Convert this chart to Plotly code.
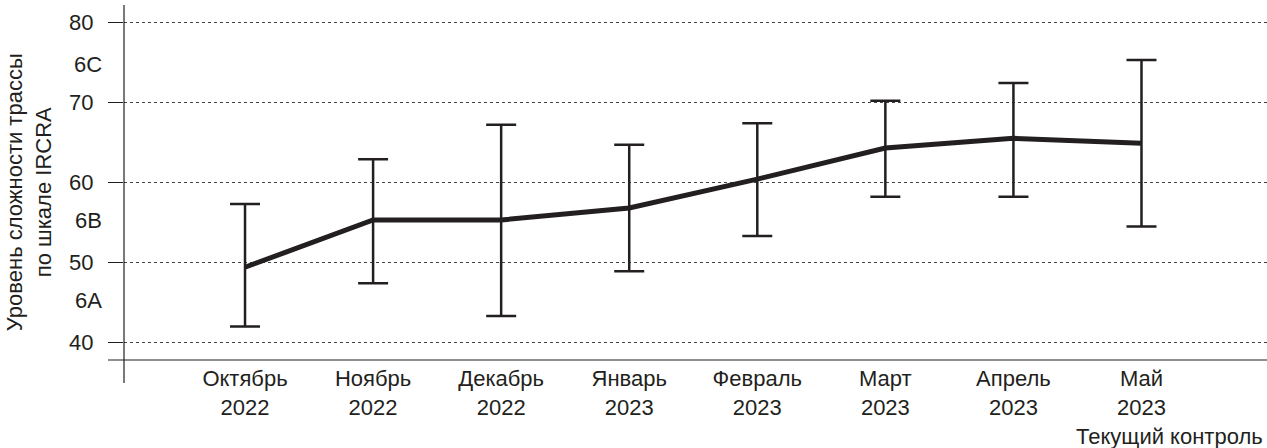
import plotly.graph_objects as go

# Monthly test sessions
months = ["Октябрь<br>2022", "Ноябрь<br>2022", "Декабрь<br>2022", "Январь<br>2023",
          "Февраль<br>2023", "Март<br>2023", "Апрель<br>2023", "Май<br>2023"]
# Mean route difficulty (IRCRA scale) and its spread
mean_level = [49.4, 55.3, 55.3, 56.8, 60.4, 64.3, 65.5, 64.9]
upper_level = [57.3, 62.9, 67.2, 64.7, 67.4, 70.2, 72.4, 75.3]
lower_level = [42.0, 47.4, 43.3, 48.9, 53.3, 58.2, 58.2, 54.5]

# French-scale grades marked alongside the IRCRA values
grade_labels = ["6A", "6B", "6C"]
grade_pos = [45.3, 55.3, 74.7]

y_ticks = [40, 50, 60, 70, 80]

INK = "#231f20"
FONT = "Liberation Sans, Arial, sans-serif"
FS = 22

x_idx = list(range(len(months)))
err_plus = [u - m for u, m in zip(upper_level, mean_level)]
err_minus = [m - l for m, l in zip(mean_level, lower_level)]

fig = go.Figure()
fig.add_trace(go.Scatter(
    x=x_idx, y=mean_level, mode="lines",
    line=dict(color=INK, width=5),
    error_y=dict(type="data", symmetric=False, array=err_plus, arrayminus=err_minus,
                 color=INK, thickness=2.5, width=15),
    showlegend=False, hoverinfo="skip",
))

fig.update_layout(
    width=1267, height=448, autosize=False,
    margin=dict(l=124, r=0, t=5, b=88),
    paper_bgcolor="white", plot_bgcolor="white",
    font=dict(family=FONT, size=FS, color=INK),
    xaxis=dict(
        range=[-0.945, 7.98], tickmode="array", tickvals=x_idx, ticktext=months,
        showgrid=False, zeroline=False, showline=False, ticks="",
        ticklabelstandoff=3,
        tickfont=dict(size=FS, color=INK),
    ),
    yaxis=dict(
        range=[37.81, 82.16], tickmode="array", tickvals=y_ticks,
        showgrid=True, gridcolor="#444444", griddash="dot", gridwidth=1,
        zeroline=False, showline=False,
        ticks="outside", ticklen=15, tickwidth=1, tickcolor=INK,
        ticklabelstandoff=10,
        tickfont=dict(size=FS, color=INK),
    ),
)

# Axis lines: the vertical one runs past the horizontal one
fig.add_shape(type="line", xref="paper", yref="paper", x0=0, x1=0, y0=-0.065, y1=1,
              line=dict(color=INK, width=1.2))
fig.add_shape(type="line", xref="paper", yref="paper", x0=-0.014, x1=1, y0=0, y1=0,
              line=dict(color=INK, width=1.2))

for txt, pos in zip(grade_labels, grade_pos):
    fig.add_annotation(text=txt, xref="paper", yref="y", x=-0.0175, y=pos,
                       xanchor="right", yanchor="middle", showarrow=False,
                       font=dict(size=FS, color=INK))

fig.add_annotation(text="Уровень сложности трассы<br>по шкале IRCRA",
                   xref="paper", yref="paper", x=-0.0577, y=0.473,
                   xanchor="right", yanchor="middle", textangle=-90, showarrow=False,
                   font=dict(size=FS, color=INK))

fig.add_annotation(text="Текущий контроль", xref="paper", yref="paper",
                   x=0.998, y=-0.175, xanchor="right", yanchor="top", showarrow=False,
                   font=dict(size=FS, color=INK))

fig.write_html("out.html")
